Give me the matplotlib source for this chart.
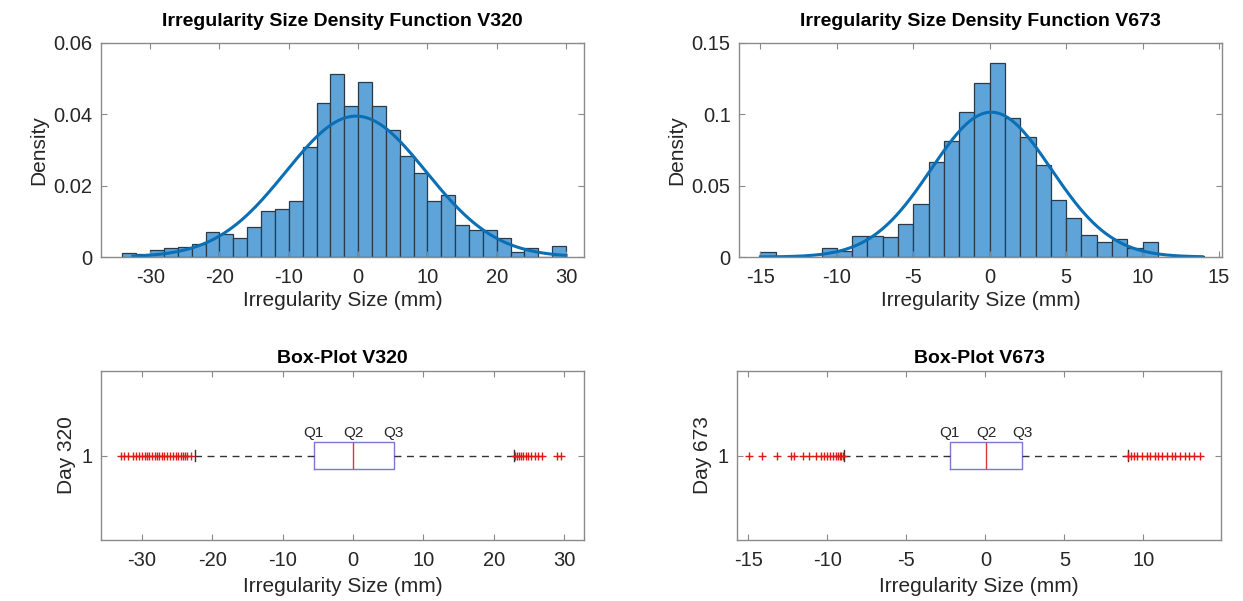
import numpy as np
import matplotlib.pyplot as plt

plt.rcParams['font.family'] = ['Liberation Sans', 'DejaVu Sans']
plt.rcParams['axes.unicode_minus'] = False

# histogram V320 (bin width 2 from -34)
edges_320 = np.arange(-34, 31, 2)
dens_320 = [0.0012, 0.0009, 0.0020, 0.0026, 0.0028, 0.0036, 0.0071, 0.0064,
            0.0054, 0.0085, 0.0128, 0.0135, 0.0157, 0.0309, 0.0433, 0.0514,
            0.0423, 0.0491, 0.0423, 0.0357, 0.0283, 0.0236, 0.0157, 0.0175,
            0.0090, 0.0077, 0.0077, 0.0052, 0.0015, 0.0025, 0.0, 0.0031]
mu_320, sigma_320 = -0.3, 10.1
range_320 = (-32.5, 30.0)

# histogram V673 (bin width 1 from -15)
edges_673 = np.arange(-15, 15, 1)
dens_673 = [0.0035, 0.0, 0.0, 0.0, 0.0060, 0.0042, 0.0150, 0.0150, 0.0138,
            0.0231, 0.0374, 0.0666, 0.0810, 0.1019, 0.1219, 0.1357, 0.0972,
            0.0841, 0.0645, 0.0400, 0.0276, 0.0157, 0.0107, 0.0128, 0.0060,
            0.0107, 0.0, 0.0, 0.0007]
mu_673, sigma_673 = 0.1, 3.93
range_673 = (-15.0, 13.9)

# box plot statistics
box_320 = dict(q1=-5.6, med=0.0, q3=5.8, whislo=-22.5, whishi=22.8)
fliers_320 = [-32.9, -32.5, -32.0, -31.3, -30.8, -30.4, -30.0, -29.6, -29.3,
              -29.0, -28.6, -28.2, -27.9, -27.5, -27.1, -26.8, -26.4, -26.0,
              -25.6, -25.2, -24.9, -24.5, -24.2, -23.9, -23.6, -23.0,
              23.0, 23.3, 23.6, 23.9, 24.2, 24.5, 24.9, 25.3, 25.8, 26.3,
              26.8, 28.9, 29.6]
box_673 = dict(q1=-2.25, med=0.05, q3=2.35, whislo=-8.95, whishi=9.0)
fliers_673 = [-14.95, -14.1, -13.15, -12.3, -12.1, -11.55, -11.15, -10.7,
              -10.4, -10.2, -10.0, -9.8, -9.6, -9.45, -9.3, -9.2, -9.1, -9.0,
              9.0, 9.2, 9.4, 9.6, 9.9, 10.2, 10.4, 10.7, 10.9, 11.2, 11.5,
              11.8, 12.0, 12.3, 12.6, 12.9, 13.2, 13.6]

W, H = 1243, 601
fig = plt.figure(figsize=(W / 100, H / 100), dpi=100)


def rect(l, r, t, b):
    return [l / W, 1 - b / H, (r - l) / W, (b - t) / H]


frame = '#8a8a8a'
txt = '#262626'


def style(ax):
    for s in ax.spines.values():
        s.set_color(frame)
        s.set_linewidth(1.0)
    ax.tick_params(direction='in', length=4, width=0.8, color=frame,
                   labelcolor=txt, labelsize=14.5, top=True, right=True)
    ax.tick_params(axis='x', pad=8)
    ax.tick_params(axis='y', pad=6)


def hist_panel(ax, edges, dens, mu, sigma, rng, title, xlim, ylim, yticks, ylabels, xticks):
    ax.bar(edges[:-1], dens, width=np.diff(edges), align='edge',
           color='#5fa4d8', edgecolor='#2b3a48', linewidth=0.9)
    xs = np.linspace(rng[0], rng[1], 300)
    ax.plot(xs, np.exp(-0.5 * ((xs - mu) / sigma) ** 2) / (sigma * np.sqrt(2 * np.pi)),
            color='#0b6fb5', lw=2.2)
    ax.set_xlim(*xlim)
    ax.set_ylim(*ylim)
    ax.set_yticks(yticks)
    ax.set_yticklabels(ylabels)
    ax.set_xticks(xticks)
    ax.set_title(title, fontsize=14, fontweight='bold', color='black', pad=12)
    ax.set_xlabel('Irregularity Size (mm)', fontsize=15, color=txt, labelpad=3)
    ax.set_ylabel('Density', fontsize=15, color=txt, labelpad=4)
    style(ax)


def box_panel(ax, stats, fliers, title, ylabel, xlim, xticks):
    s = dict(stats)
    s['fliers'] = fliers
    ax.bxp([s], positions=[1], widths=0.16, orientation='horizontal',
           showfliers=True, capwidths=0.07,
           boxprops=dict(color='#7b78d4', lw=1.0),
           medianprops=dict(color='#d23c3c', lw=1.0),
           whiskerprops=dict(color='#333333', lw=1.0, linestyle=(0, (5, 4))),
           capprops=dict(color='#333333', lw=1.0),
           flierprops=dict(marker='+', markeredgecolor='#e01818',
                           markersize=6, markeredgewidth=1.0, linestyle='none'))
    for lab, key in zip(['Q1', 'Q2', 'Q3'], ['q1', 'med', 'q3']):
        ax.text(stats[key], 1.09, lab, ha='center', va='bottom',
                fontsize=11, color=txt)
    ax.set_ylim(0.5, 1.5)
    ax.set_yticks([1])
    ax.set_yticklabels(['1'])
    ax.set_xlim(*xlim)
    ax.set_xticks(xticks)
    ax.set_title(title, fontsize=14, fontweight='bold', color='black', pad=6)
    ax.set_xlabel('Irregularity Size (mm)', fontsize=15, color=txt, labelpad=5)
    ax.set_ylabel(ylabel, fontsize=15, color=txt, labelpad=4)
    style(ax)


ax1 = fig.add_axes(rect(101, 584, 43, 257))
hist_panel(ax1, edges_320, dens_320, mu_320, sigma_320, range_320,
           'Irregularity Size Density Function V320', (-37.1, 32.6), (0, 0.06),
           [0, 0.02, 0.04, 0.06], ['0', '0.02', '0.04', '0.06'],
           [-30, -20, -10, 0, 10, 20, 30])

ax2 = fig.add_axes(rect(739, 1222, 43, 257))
hist_panel(ax2, edges_673, dens_673, mu_673, sigma_673, range_673,
           'Irregularity Size Density Function V673', (-16.4, 15.2), (0, 0.15),
           [0, 0.05, 0.1, 0.15], ['0', '0.05', '0.1', '0.15'],
           [-15, -10, -5, 0, 5, 10, 15])

ax3 = fig.add_axes(rect(101, 584, 371, 540))
box_panel(ax3, box_320, fliers_320, 'Box-Plot V320', 'Day 320',
          (-35.8, 32.8), [-30, -20, -10, 0, 10, 20, 30])

ax4 = fig.add_axes(rect(737, 1221, 371, 540))
box_panel(ax4, box_673, fliers_673, 'Box-Plot V673', 'Day 673',
          (-15.7, 14.9), [-15, -10, -5, 0, 5, 10])

fig.savefig('out.png', dpi=100)
